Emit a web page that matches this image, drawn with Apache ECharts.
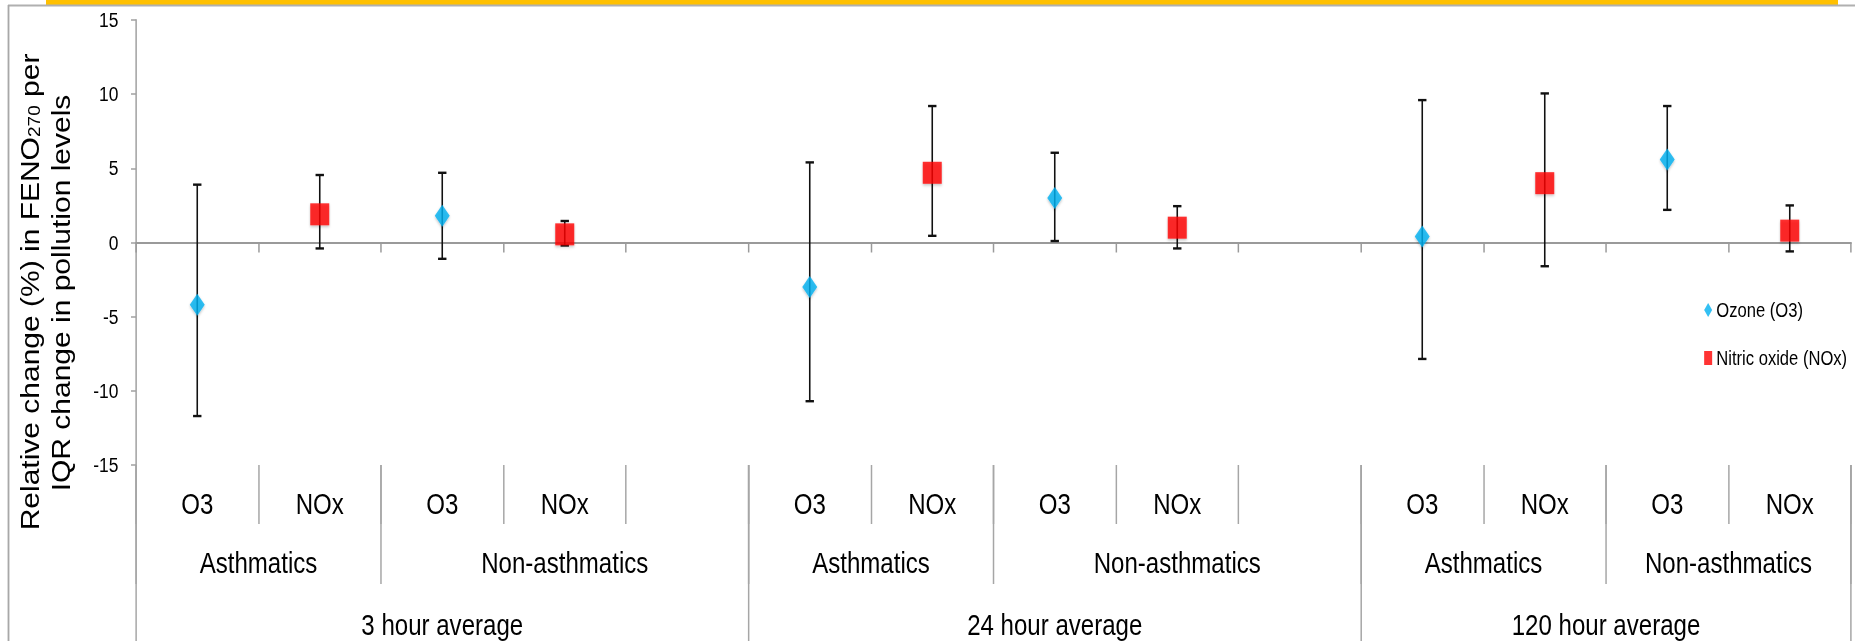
<!DOCTYPE html>
<html>
<head>
<meta charset="utf-8">
<script src="https://cdn.jsdelivr.net/npm/echarts@6.0.0/dist/echarts.min.js"></script>
<style>
html,body{margin:0;padding:0;background:#fff;overflow:hidden;}
#wrap{width:1855px;height:641px;overflow:hidden;position:relative;}
#chart{height:641px;position:absolute;left:0;top:0;transform-origin:0 0;}
</style>
</head>
<body>
<div id="wrap"><div id="chart"></div></div>
<script>
// ---- data ----
const categories = ['O3','NOx','O3','NOx','','O3','NOx','O3','NOx','','O3','NOx','O3','NOx'];
const ozoneVal  = [-4.2, null, 1.8, null, null, -3.0, null, 3.0, null, null, 0.4, null, 5.6, null];
const ozoneLow  = [-11.7, null, -1.1, null, null, -10.7, null, 0.1, null, null, -7.85, null, 2.2, null];
const ozoneHigh = [3.9, null, 4.7, null, null, 5.4, null, 6.05, null, null, 9.6, null, 9.2, null];
const noxVal    = [null, 1.9, null, 0.55, null, null, 4.7, null, 1.0, null, null, 4.0, null, 0.8];
const noxLow    = [null, -0.4, null, -0.2, null, null, 0.45, null, -0.4, null, null, -1.6, null, -0.6];
const noxHigh   = [null, 4.55, null, 1.45, null, null, 9.2, null, 2.45, null, null, 10.05, null, 2.5];
const groupLabels = ['Asthmatics','Non-asthmatics','Asthmatics','Non-asthmatics','Asthmatics','Non-asthmatics'];
const groupSpans  = [2, 3, 2, 3, 2, 2];
const periodLabels = ['3 hour average','24 hour average','120 hour average'];
const periodSpans  = [5, 5, 4];
const yMin = -15, yMax = 15, yInterval = 5;
const seriesNames = ['Ozone (O3)', 'Nitric oxide (NOx)'];

// ---- layout (the picture is horizontally condensed, as in the reference) ----
const K = 0.83;                 // horizontal squeeze
const W = 1855 / K;             // drawing width before squeeze
const sx = v => v / K;          // screen x -> drawing x
const el = document.getElementById('chart');
el.style.width = W + 'px';
el.style.transform = 'scaleX(' + K + ')';

function bounds(spans){ const b=[0]; spans.forEach(s=>b.push(b[b.length-1]+s)); return b; }
function centers(spans){ const b=bounds(spans); return spans.map((s,i)=>b[i]+s/2); }
const gB = bounds(groupSpans), gC = centers(groupSpans);
const pB = bounds(periodSpans), pC = centers(periodSpans);
function lookup(cs, labels){ return v => { for(let i=0;i<cs.length;i++){ if(Math.abs(cs[i]-v)<1e-6) return labels[i]; } return ''; }; }

const FONT = "'Liberation Sans',Arial,sans-serif";
const divider = {color:'#a6a6a6', width:1.8};
const nCat = categories.length;

function errData(val, lo, hi){ const out=[]; val.forEach((v,i)=>{ if(v!==null) out.push([i, lo[i], hi[i]]); }); return out; }

const errorBarRender = function(params, api){
  const x = api.value(0);
  const a = api.coord([x, api.value(1)]);
  const b = api.coord([x, api.value(2)]);
  const cap = sx(4.2);
  const st = {stroke:'#111', lineWidth:1.9};
  const cs = {stroke:'#111', lineWidth:2.4};
  return {type:'group', children:[
    {type:'line', shape:{x1:a[0],y1:a[1],x2:b[0],y2:b[1]}, style:st},
    {type:'line', shape:{x1:a[0]-cap,y1:a[1],x2:a[0]+cap,y2:a[1]}, style:cs},
    {type:'line', shape:{x1:b[0]-cap,y1:b[1],x2:b[0]+cap,y2:b[1]}, style:cs}
  ]};
};

const labelStyle = {fontFamily:FONT, fontSize:29, lineHeight:29, color:'#000'};

const chart = echarts.init(el, null, {renderer:'svg', width:W, height:641});
const option = {
  animation:false,
  backgroundColor:'#fff',
  grid:{left:sx(136), right:sx(4), top:20, bottom:176, containLabel:false},
  legend:{
    data:seriesNames, orient:'vertical', left:sx(1700), top:295,
    itemWidth:sx(8), itemHeight:14, itemGap:28, symbolKeepAspect:false,
    textStyle:{fontFamily:FONT, fontSize:20, color:'#000', lineHeight:20},
    itemStyle:{shadowBlur:0, shadowColor:'transparent'}
  },
  xAxis:[
    { type:'category', data:categories, position:'bottom',
      axisLine:{onZero:true, lineStyle:{color:'#9a9a9a', width:2}},
      axisTick:{show:true, interval:0, length:10, lineStyle:{color:'#9a9a9a', width:1.8}},
      axisLabel:{show:false}, splitLine:{show:false} },
    { type:'category', data:categories, position:'bottom',
      axisLine:{show:false, onZero:false},
      axisTick:{show:true, interval:0, length:59, lineStyle:divider},
      axisLabel:Object.assign({show:true, interval:0, margin:25}, labelStyle),
      splitLine:{show:false} },
    { type:'value', min:0, max:nCat, position:'bottom',
      axisLine:{show:false, onZero:false},
      axisTick:{show:true, customValues:gB, length:119, lineStyle:divider},
      axisLabel:Object.assign({show:true, customValues:gC, formatter:lookup(gC, groupLabels), margin:84}, labelStyle),
      splitLine:{show:false} },
    { type:'value', min:0, max:nCat, position:'bottom',
      axisLine:{show:false, onZero:false},
      axisTick:{show:true, customValues:pB, length:200, lineStyle:divider},
      axisLabel:Object.assign({show:true, customValues:pC, formatter:lookup(pC, periodLabels), margin:146}, labelStyle),
      splitLine:{show:false} }
  ],
  yAxis:{
    type:'value', min:yMin, max:yMax, interval:yInterval,
    axisLine:{show:true, lineStyle:{color:'#a0a0a0', width:1.8}},
    axisTick:{show:true, length:sx(5), lineStyle:{color:'#a0a0a0', width:1.5}},
    axisLabel:{margin:sx(17.5), fontFamily:FONT, fontSize:21, color:'#000'},
    splitLine:{show:false}
  },
  graphic:[
    {type:'rect', shape:{x:sx(46), y:0, width:sx(1792), height:5}, style:{fill:'#FFC000'}, silent:true},
    {type:'line', shape:{x1:sx(8), y1:5.5, x2:W, y2:5.5}, style:{stroke:'#b0b0b0', lineWidth:2}, silent:true},
    {type:'line', shape:{x1:sx(8.5), y1:5, x2:sx(8.5), y2:641}, style:{stroke:'#a8a8a8', lineWidth:2.2}, silent:true},
    {type:'text', x:sx(30), y:292, rotation:Math.PI/2, silent:true,
      style:{text:'{a|Relative change (%) in FENO}{s|270}{a| per}', align:'center', verticalAlign:'middle', fill:'#000',
        rich:{a:{fontFamily:FONT, fontSize:30, lineHeight:30, fill:'#000'}, s:{fontFamily:FONT, fontSize:19, lineHeight:12, verticalAlign:'bottom', fill:'#000'}}}},
    {type:'text', x:sx(61), y:293, rotation:Math.PI/2, silent:true,
      style:{text:'IQR change in pollution levels', align:'center', verticalAlign:'middle', fill:'#000', font:'30px ' + FONT}}
  ],
  series:[
    { name:'errO3', type:'custom', xAxisIndex:0, renderItem:errorBarRender, data:errData(ozoneVal, ozoneLow, ozoneHigh), encode:{x:0, y:[1,2]}, z:2, silent:true },
    { name:'errNOx', type:'custom', xAxisIndex:0, renderItem:errorBarRender, data:errData(noxVal, noxLow, noxHigh), encode:{x:0, y:[1,2]}, z:2, silent:true },
    { name:seriesNames[0], type:'scatter', xAxisIndex:0, data:ozoneVal, symbol:'diamond', symbolSize:[sx(15),22], z:5,
      itemStyle:{color:'#00B0F0', shadowBlur:3, shadowColor:'rgba(0,0,0,0.3)', shadowOffsetY:1.5} },
    { name:seriesNames[1], type:'scatter', xAxisIndex:0, data:noxVal, symbol:'rect', symbolSize:[sx(19),22], z:5,
      itemStyle:{color:'#FF0000', shadowBlur:3, shadowColor:'rgba(0,0,0,0.3)', shadowOffsetY:1.5} }
  ]
};
chart.setOption(option);
</script>
</body>
</html>
